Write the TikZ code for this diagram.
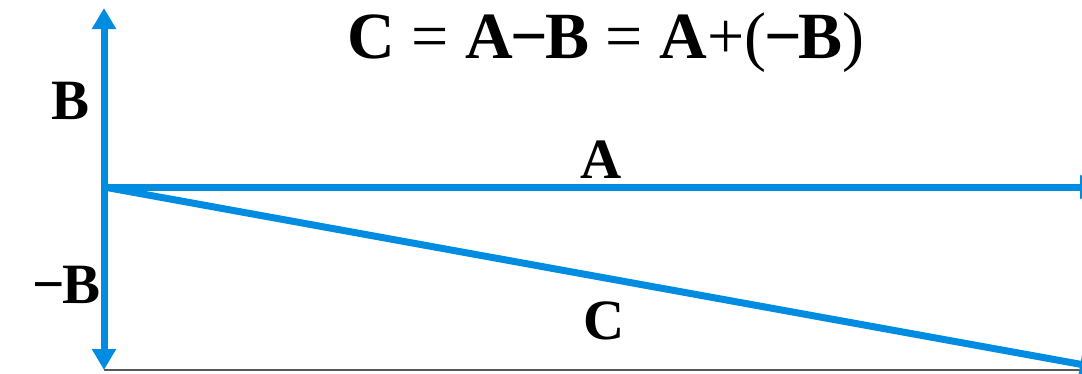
\documentclass[tikz,border=0pt]{standalone}
\usepackage{fontspec}
\setmainfont{Liberation Serif}
\usetikzlibrary{arrows.meta}
\definecolor{vblue}{RGB}{0,140,224}
\tikzset{
  vec/.style={draw=vblue,line width=7pt,-{Triangle[width=23pt,length=21pt]}},
  lbl/.style={font=\bfseries\fontsize{57}{62}\selectfont,inner sep=0pt},
}
\newcommand{\mns}{\kern-0.03em−\kern-0.05em}
\newcommand{\rg}[1]{{\mdseries #1}}
\begin{document}
\begin{tikzpicture}[x=1pt,y=-1pt]
\useasboundingbox (0,0) rectangle (1082,373);
\clip (0,0) rectangle (1082,373);
\coordinate (O) at (104,187);
\coordinate (Btip) at (104,8);
\coordinate (mBtip) at (104,370);
\coordinate (Atip) at (1101,187);
\coordinate (Ctip) at (1101,368);
\coordinate (gl) at (104,370);
\coordinate (gr) at (1082,370);
\draw[gray!70!black,line width=1.5pt] (gl) -- (gr);
\draw[vec] (O) -- (Btip);
\draw[vec] (O) -- (mBtip);
\draw[vec] (O) -- (Atip);
\draw[vec] (O) -- (Ctip);
\node[lbl] (lB) at (71,101) {B};
\node[lbl] (lmB) at (67,285) {\mns B};
\node[lbl] (lA) at (601,160) {A};
\node[lbl] (lC) at (604,321) {C};
\node[lbl,font=\bfseries\fontsize{66}{72}\selectfont] (title) at (606,43) {C \rg{=} A\mns B \rg{=} A\rg{+(}\mns B\rg{)}};
\end{tikzpicture}
\end{document}
